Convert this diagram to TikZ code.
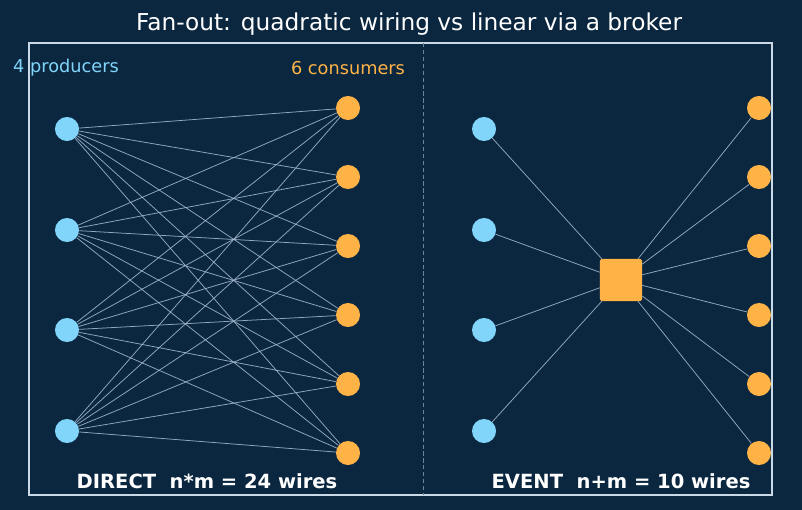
\documentclass[tikz,border=0pt]{standalone}
\usepackage{fontspec}
\setmainfont{DejaVu Sans}
\definecolor{bgnavy}{HTML}{0B2740}
\definecolor{prodblue}{HTML}{81D4FA}
\definecolor{consorange}{HTML}{FFB347}
\definecolor{wiregray}{HTML}{A9BED3}
\definecolor{framegray}{HTML}{C9D9E8}
\definecolor{splitgray}{HTML}{6F8498}
\begin{document}
\begin{tikzpicture}[x=0.01in,y=-0.01in,
    producer/.style={circle,fill=prodblue,minimum size=0.24in,inner sep=0pt},
    consumer/.style={circle,fill=consorange,minimum size=0.24in,inner sep=0pt},
    wire/.style={draw=wiregray,line width=0.55pt,opacity=0.85}]
			\fill[bgnavy] (0,0) rectangle (802,510);
			\useasboundingbox (0,0) rectangle (802,510);
			\node[white,font=\fontsize{16.8}{19}\selectfont] (title) at (409,24) {Fan-out: quadratic wiring vs linear via a broker};
			\draw[framegray,line width=1pt] (29,43) rectangle (772,495);
			\draw[splitgray,line width=0.5pt,dash pattern=on 3pt off 2pt] (423,43) -- (423,495);
			% direct wiring
			\foreach \i/\y in {1/129,2/230,3/330,4/431}
				\node[producer] (p\i) at (67,\y) {};
			\foreach \j/\y in {1/108,2/177,3/246,4/315,5/384,6/453}
				\node[consumer] (c\j) at (348,\y) {};
			\foreach \i in {1,...,4}
				\foreach \j in {1,...,6}
					\draw[wire] (p\i) -- (c\j);
			\node[prodblue,font=\fontsize{12.8}{15}\selectfont] (nprod) at (66,68) {4 producers};
			\node[consorange,font=\fontsize{12.8}{15}\selectfont] (ncons) at (348,68) {6 consumers};
			\node[white,font=\fontsize{14.1}{16}\selectfont\bfseries] (direct) at (207,481) {DIRECT~~n*m = 24 wires};
			% via a broker
			\node[fill=consorange,minimum size=0.42in,inner sep=0pt,rounded corners=1.5pt] (broker) at (621,280) {};
			\foreach \i/\y in {1/129,2/230,3/330,4/431}
				\node[producer] (q\i) at (484,\y) {};
			\foreach \j/\y in {1/108,2/177,3/246,4/315,5/384,6/453}
				\node[consumer] (d\j) at (759,\y) {};
			\foreach \i in {1,...,4}
				\draw[wire] (q\i) -- (broker);
			\foreach \j in {1,...,6}
				\draw[wire] (broker) -- (d\j);
			\node[white,font=\fontsize{14.1}{16}\selectfont\bfseries] (event) at (621,481) {EVENT~~n+m = 10 wires};
		\end{tikzpicture}
\end{document}
